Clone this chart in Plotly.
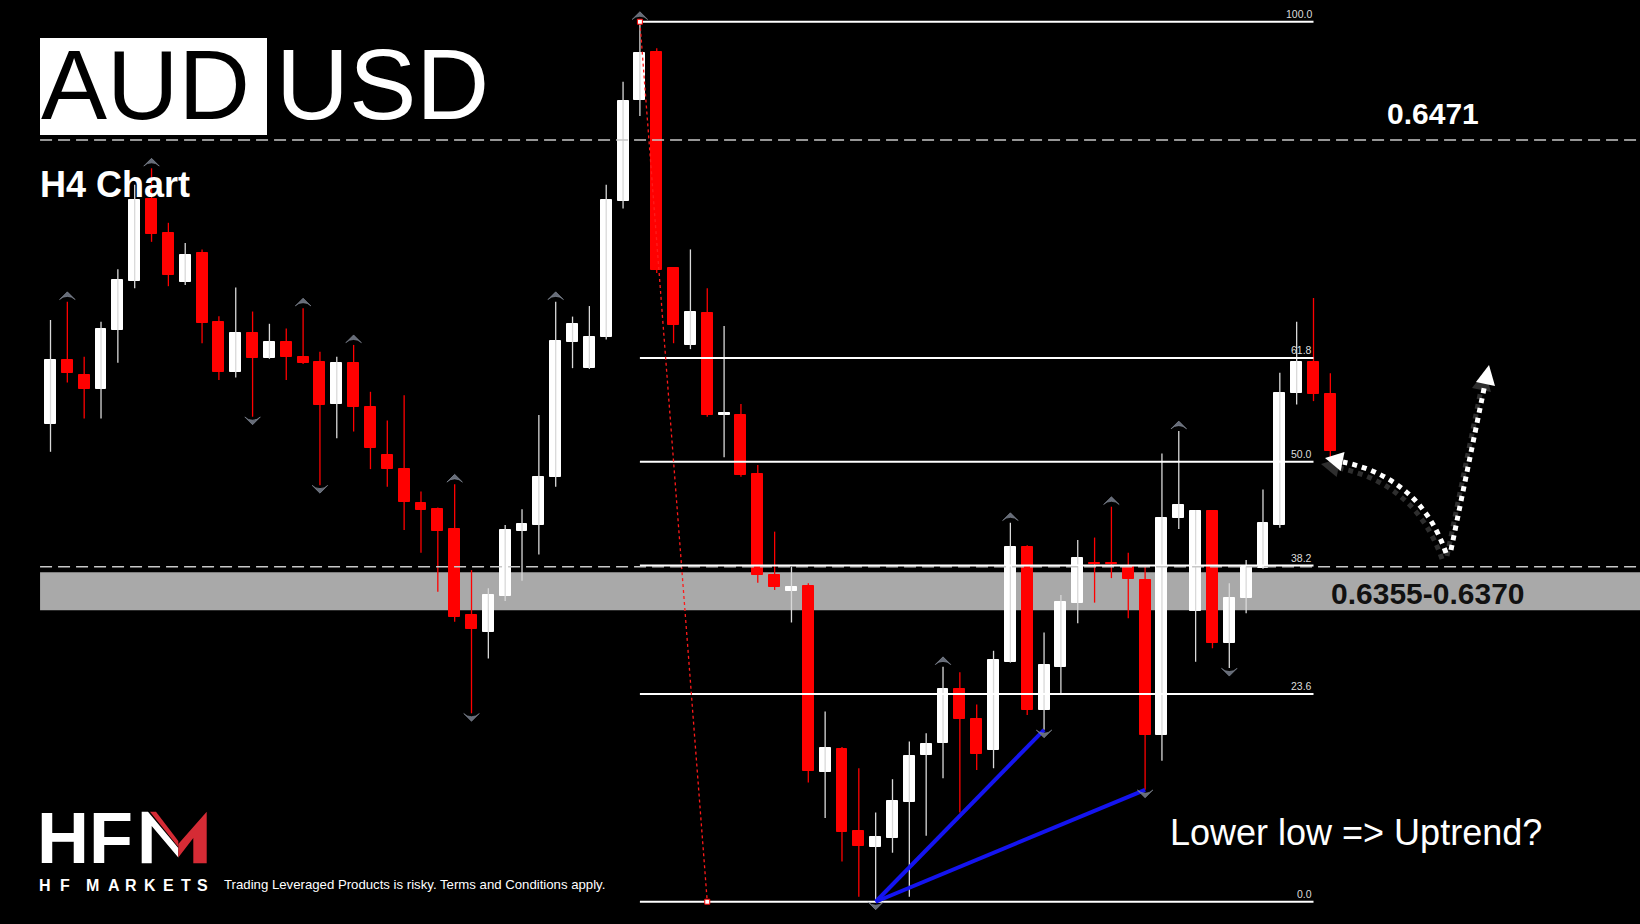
import plotly.graph_objects as go

# ---------------- data (AUDUSD H4) ----------------
opens = [
    0.64037, 0.64189, 0.64154, 0.64121, 0.64260, 0.64377, 0.64570, 0.64491, 0.64375, 0.64442,
    0.64279, 0.64162, 0.64253, 0.64193, 0.64233, 0.64197, 0.64185, 0.64085, 0.64183, 0.64079,
    0.63965, 0.63931, 0.63850, 0.63836, 0.63789, 0.63586, 0.63545, 0.63631, 0.63785, 0.63799,
    0.63912, 0.64233, 0.64170, 0.64243, 0.64566, 0.64805, 0.64918, 0.64406, 0.64225, 0.64300,
    0.64058, 0.64059, 0.63919, 0.63680, 0.63643, 0.63654, 0.63213, 0.63268, 0.63075, 0.63037,
    0.63057, 0.63144, 0.63254, 0.63282, 0.63410, 0.63339, 0.63266, 0.63475, 0.63746, 0.63361,
    0.63463, 0.63615, 0.63708, 0.63708, 0.63700, 0.63669, 0.63302, 0.63815, 0.63595, 0.63833,
    0.63519, 0.63625, 0.63696, 0.63799, 0.64111, 0.64185, 0.64109]
highs = [
    0.64284, 0.64327, 0.64197, 0.64280, 0.64404, 0.64604, 0.64643, 0.64514, 0.64466, 0.64451,
    0.64293, 0.64361, 0.64304, 0.64275, 0.64264, 0.64312, 0.64209, 0.64197, 0.64225, 0.64114,
    0.64046, 0.64106, 0.63878, 0.63840, 0.63895, 0.63692, 0.63649, 0.63799, 0.63836, 0.64059,
    0.64327, 0.64292, 0.64317, 0.64604, 0.64848, 0.64990, 0.64927, 0.64408, 0.64451, 0.64359,
    0.64270, 0.64085, 0.63941, 0.63783, 0.63700, 0.63661, 0.63357, 0.63273, 0.63223, 0.63118,
    0.63197, 0.63286, 0.63306, 0.63463, 0.63450, 0.63374, 0.63501, 0.63804, 0.63751, 0.63544,
    0.63633, 0.63763, 0.63769, 0.63842, 0.63733, 0.63700, 0.63968, 0.64021, 0.63834, 0.63834,
    0.63661, 0.63716, 0.63883, 0.64159, 0.64280, 0.64336, 0.64158]
lows = [
    0.63972, 0.64136, 0.64051, 0.64051, 0.64183, 0.64359, 0.64469, 0.64364, 0.64367, 0.64229,
    0.64142, 0.64148, 0.64055, 0.64192, 0.64142, 0.64180, 0.63893, 0.64004, 0.64020, 0.63931,
    0.63889, 0.63787, 0.63733, 0.63641, 0.63570, 0.63353, 0.63483, 0.63619, 0.63667, 0.63729,
    0.63889, 0.64170, 0.64168, 0.64238, 0.64548, 0.64767, 0.64395, 0.64229, 0.64215, 0.64055,
    0.63959, 0.63913, 0.63662, 0.63645, 0.63568, 0.63189, 0.63105, 0.63002, 0.62919, 0.62907,
    0.63023, 0.62919, 0.63063, 0.63199, 0.63118, 0.63219, 0.63223, 0.63473, 0.63349, 0.63314,
    0.63400, 0.63566, 0.63615, 0.63673, 0.63578, 0.63172, 0.63241, 0.63789, 0.63475, 0.63507,
    0.63460, 0.63590, 0.63695, 0.63792, 0.64084, 0.64092, 0.63929]
closes = [
    0.64189, 0.64158, 0.64121, 0.64262, 0.64379, 0.64568, 0.64487, 0.64390, 0.64438, 0.64278,
    0.64162, 0.64253, 0.64193, 0.64233, 0.64196, 0.64182, 0.64083, 0.64183, 0.64077, 0.63982,
    0.63931, 0.63852, 0.63834, 0.63785, 0.63582, 0.63553, 0.63633, 0.63787, 0.63800, 0.63913,
    0.64235, 0.64275, 0.64244, 0.64568, 0.64802, 0.64915, 0.64402, 0.64272, 0.64302, 0.64059,
    0.64065, 0.63917, 0.63680, 0.63653, 0.63653, 0.63216, 0.63270, 0.63071, 0.63040, 0.63061,
    0.63145, 0.63253, 0.63280, 0.63410, 0.63339, 0.63256, 0.63479, 0.63746, 0.63361, 0.63467,
    0.63616, 0.63721, 0.63706, 0.63706, 0.63670, 0.63302, 0.63816, 0.63846, 0.63833, 0.63519,
    0.63627, 0.63700, 0.63804, 0.64112, 0.64185, 0.64108, 0.63974]

up_fractals = [1, 6, 15, 18, 24, 30, 35, 53, 57, 63, 67]
down_fractals = [12, 16, 25, 49, 59, 65, 70]

fib_ratios = [0.0, 0.236, 0.382, 0.5, 0.618, 1.0]
fib_labels = ["0.0", "23.6", "38.2", "50.0", "61.8", "100.0"]
fib_high_bar, fib_low_bar = 35, 49
fib_start_bar, fib_end_bar = 35, 75
fib_base_end_bar = 39

trend_from_bar = 49
trend_to_bars = [59, 65]

level_upper = 0.6471
level_lower = 0.6370
level_upper_label = "0.6471"
zone_low, zone_high = 0.63597, 0.63687
zone_label = "0.6355-0.6370"

title_base, title_quote = "AUD", "USD"
subtitle = "H4 Chart"
note = "Lower low => Uptrend?"
disclaimer = "Trading Leveraged Products is risky. Terms and Conditions apply."
brand_letters = ["H", "F", "M", "A", "R", "K", "E", "T", "S"]

# ---------------- layout helpers ----------------
W, H = 1640, 924
X0_PX, BAR_PX = 50.5, 16.84          # first bar centre & bar spacing in px
Y_TOP, PX_PRICE = 0.650414, 0.00002367
x_range = [(0 - X0_PX) / BAR_PX, (W - X0_PX) / BAR_PX]
y_range = [Y_TOP - H * PX_PRICE, Y_TOP]


def px(x):
    return x / W


def py(y):
    return 1 - y / H


FONT = "Liberation Sans, Arial, sans-serif"
n = len(opens)
xs = list(range(n))
bull = [closes[i] >= opens[i] for i in xs]

fig = go.Figure()

# wicks
for is_bull, col in ((True, "#d9d9d9"), (False, "#ff0000")):
    wx, wy = [], []
    for i in xs:
        if bull[i] == is_bull:
            wx += [i, i, None]
            wy += [lows[i], highs[i], None]
    fig.add_trace(go.Scatter(x=wx, y=wy, mode="lines",
                             line=dict(color=col, width=1.3),
                             hoverinfo="skip", showlegend=False))

# bodies
body_base = [min(opens[i], closes[i]) for i in xs]
body_h = [abs(closes[i] - opens[i]) for i in xs]
body_col = ["#ffffff" if b else "#ff0000" for b in bull]
fig.add_trace(go.Bar(x=xs, y=body_h, base=body_base, width=0.65,
                     marker=dict(color=body_col, line=dict(color=body_col, width=1)),
                     hoverinfo="skip", showlegend=False))

# fibonacci levels
fib_hi = highs[fib_high_bar]
fib_lo = lows[fib_low_bar]
fib_levels = [fib_lo + r * (fib_hi - fib_lo) for r in fib_ratios]
for lvl in fib_levels:
    fig.add_trace(go.Scatter(x=[fib_start_bar, fib_end_bar], y=[lvl, lvl], mode="lines",
                             line=dict(color="#ffffff", width=2),
                             hoverinfo="skip", showlegend=False))

# fib base (red dotted)
fig.add_trace(go.Scatter(x=[fib_high_bar, fib_base_end_bar], y=[fib_hi, fib_lo],
                         mode="lines+markers",
                         line=dict(color="#ff1a1a", width=1.3, dash="3px,3px"),
                         marker=dict(symbol="square", size=5, color="#ffffff",
                                     line=dict(color="#ff0000", width=1)),
                         hoverinfo="skip", showlegend=False))

# dashed horizontal levels
for lvl in (level_upper, level_lower):
    fig.add_trace(go.Scatter(x=[-0.62, x_range[1] + 1], y=[lvl, lvl], mode="lines",
                             line=dict(color="#c8c8c8", width=1.5, dash="12px,6px"),
                             hoverinfo="skip", showlegend=False))

# blue trend lines
for tb in trend_to_bars:
    fig.add_trace(go.Scatter(x=[trend_from_bar, tb], y=[lows[trend_from_bar], lows[tb]],
                             mode="lines", line=dict(color="#1414f0", width=4),
                             hoverinfo="skip", showlegend=False))

# fractal arrows
up_off, dn_off = 10 * PX_PRICE, 8 * PX_PRICE
fig.add_trace(go.Scatter(x=up_fractals, y=[highs[i] + up_off for i in up_fractals],
                         mode="markers",
                         marker=dict(symbol="arrow-wide", size=11, angle=0, color="#666c78",
                                     line=dict(color="#8e96a2", width=0.6)),
                         hoverinfo="skip", showlegend=False))
fig.add_trace(go.Scatter(x=down_fractals, y=[lows[i] - dn_off for i in down_fractals],
                         mode="markers",
                         marker=dict(symbol="arrow-wide", size=11, angle=180, color="#666c78",
                                     line=dict(color="#8e96a2", width=0.6)),
                         hoverinfo="skip", showlegend=False))

shapes = []
# support zone
shapes.append(dict(type="rect", xref="x", yref="y", x0=-0.62, x1=x_range[1] + 1,
                   y0=zone_low, y1=zone_high, fillcolor="#a9a9a9",
                   line=dict(width=0), layer="below"))
# title box
shapes.append(dict(type="rect", xref="paper", yref="paper", x0=px(40), x1=px(267),
                   y0=py(135), y1=py(38), fillcolor="#ffffff", line=dict(width=0)))


def path(points, close=False):
    s = "M " + " L ".join(f"{px(x):.5f},{py(y):.5f}" for x, y in points)
    return s + (" Z" if close else "")


def qpath(p0, c, p1):
    return (f"M {px(p0[0]):.5f},{py(p0[1]):.5f} Q {px(c[0]):.5f},{py(c[1]):.5f} "
            f"{px(p1[0]):.5f},{py(p1[1]):.5f}")


# dotted arrows (shadow first)
for dx, dy, col in ((-4, 6, "#2e2e2e"), (0, 0, "#ffffff")):
    shapes.append(dict(type="path", xref="paper", yref="paper",
                       path=qpath((1446 + dx, 553 + dy), (1420 + dx, 478 + dy), (1343 + dx, 462 + dy)),
                       line=dict(color=col, width=5, dash="dot")))
    shapes.append(dict(type="path", xref="paper", yref="paper",
                       path=path([(1451 + dx, 550 + dy), (1485 + dx, 384 + dy)]),
                       line=dict(color=col, width=5, dash="dot")))
    shapes.append(dict(type="path", xref="paper", yref="paper",
                       path=path([(1325 + dx, 458 + dy), (1344.5 + dx, 452 + dy), (1340.7 + dx, 471 + dy)], True),
                       fillcolor=col, line=dict(width=0)))
    shapes.append(dict(type="path", xref="paper", yref="paper",
                       path=path([(1489 + dx, 365 + dy), (1495 + dx, 386 + dy), (1476 + dx, 382 + dy)], True),
                       fillcolor=col, line=dict(width=0)))

# HFM logo "M"
shapes.append(dict(type="path", xref="paper", yref="paper",
                   path=path([(141.7, 811.7), (148, 811.7), (178.3, 848), (178.3, 857.5),
                              (151.7, 826), (151.7, 863.3), (141.7, 863.3)], True),
                   fillcolor="#ffffff", line=dict(width=0)))
shapes.append(dict(type="path", xref="paper", yref="paper",
                   path=path([(150, 811.7), (156, 811.7), (178.3, 841), (178.3, 847)], True),
                   fillcolor="#d52b35", line=dict(width=0)))
shapes.append(dict(type="path", xref="paper", yref="paper",
                   path=path([(178.3, 844), (206.7, 811.7), (206.7, 863.3), (193.3, 863.3),
                              (193.3, 838), (178.3, 857.5)], True),
                   fillcolor="#d52b35", line=dict(width=0)))

ann = []


def text(t, x, y, size, color="#ffffff", bold=False, xanchor="left", family=FONT):
    ann.append(dict(text=t, x=px(x), y=py(y), xref="paper", yref="paper",
                    xanchor=xanchor, yanchor="middle", showarrow=False,
                    font=dict(family=family, size=size, color=color,
                              weight="bold" if bold else "normal")))


text(title_base, 39, 84, 99, color="#000000")
text(title_quote, 274, 84, 101)
text(subtitle, 38, 185, 36, bold=True)
text(level_upper_label, 1433, 113.5, 30, bold=True, xanchor="center")
text(zone_label, 1428, 593.5, 30, color="#111111", bold=True, xanchor="center")
text(note, 1168, 832, 36)
text("HF", 35, 837.5, 72, bold=True)
brand_x = [45.3, 65.2, 92.7, 113.5, 131.4, 150.4, 168.7, 186.3, 202.0]
for letter, bx in zip(brand_letters, brand_x):
    text(letter, bx, 885.5, 16, bold=True, xanchor="center")
text(disclaimer, 222, 884.5, 13.2)

for lvl, lab in zip(fib_levels, fib_labels):
    ann.append(dict(text=lab, x=fib_end_bar, y=lvl, xref="x", yref="y",
                    xanchor="right", yanchor="bottom", showarrow=False,
                    font=dict(family=FONT, size=10.5, color="#dcdcdc")))

fig.update_layout(
    width=W, height=H, margin=dict(l=0, r=0, t=0, b=0),
    paper_bgcolor="#000000", plot_bgcolor="#000000",
    xaxis=dict(range=x_range, visible=False, fixedrange=True),
    yaxis=dict(range=y_range, visible=False, fixedrange=True),
    shapes=shapes, annotations=ann, showlegend=False, bargap=0,
)

fig.write_html("out.html", config={"displayModeBar": False})

# remove the browser's default page margin so the figure fills the window
with open("out.html", "r", encoding="utf-8") as fh:
    html = fh.read()
html = html.replace("<head>", "<head><style>html,body{margin:0;padding:0;background:#000;overflow:hidden}</style>", 1)
with open("out.html", "w", encoding="utf-8") as fh:
    fh.write(html)
